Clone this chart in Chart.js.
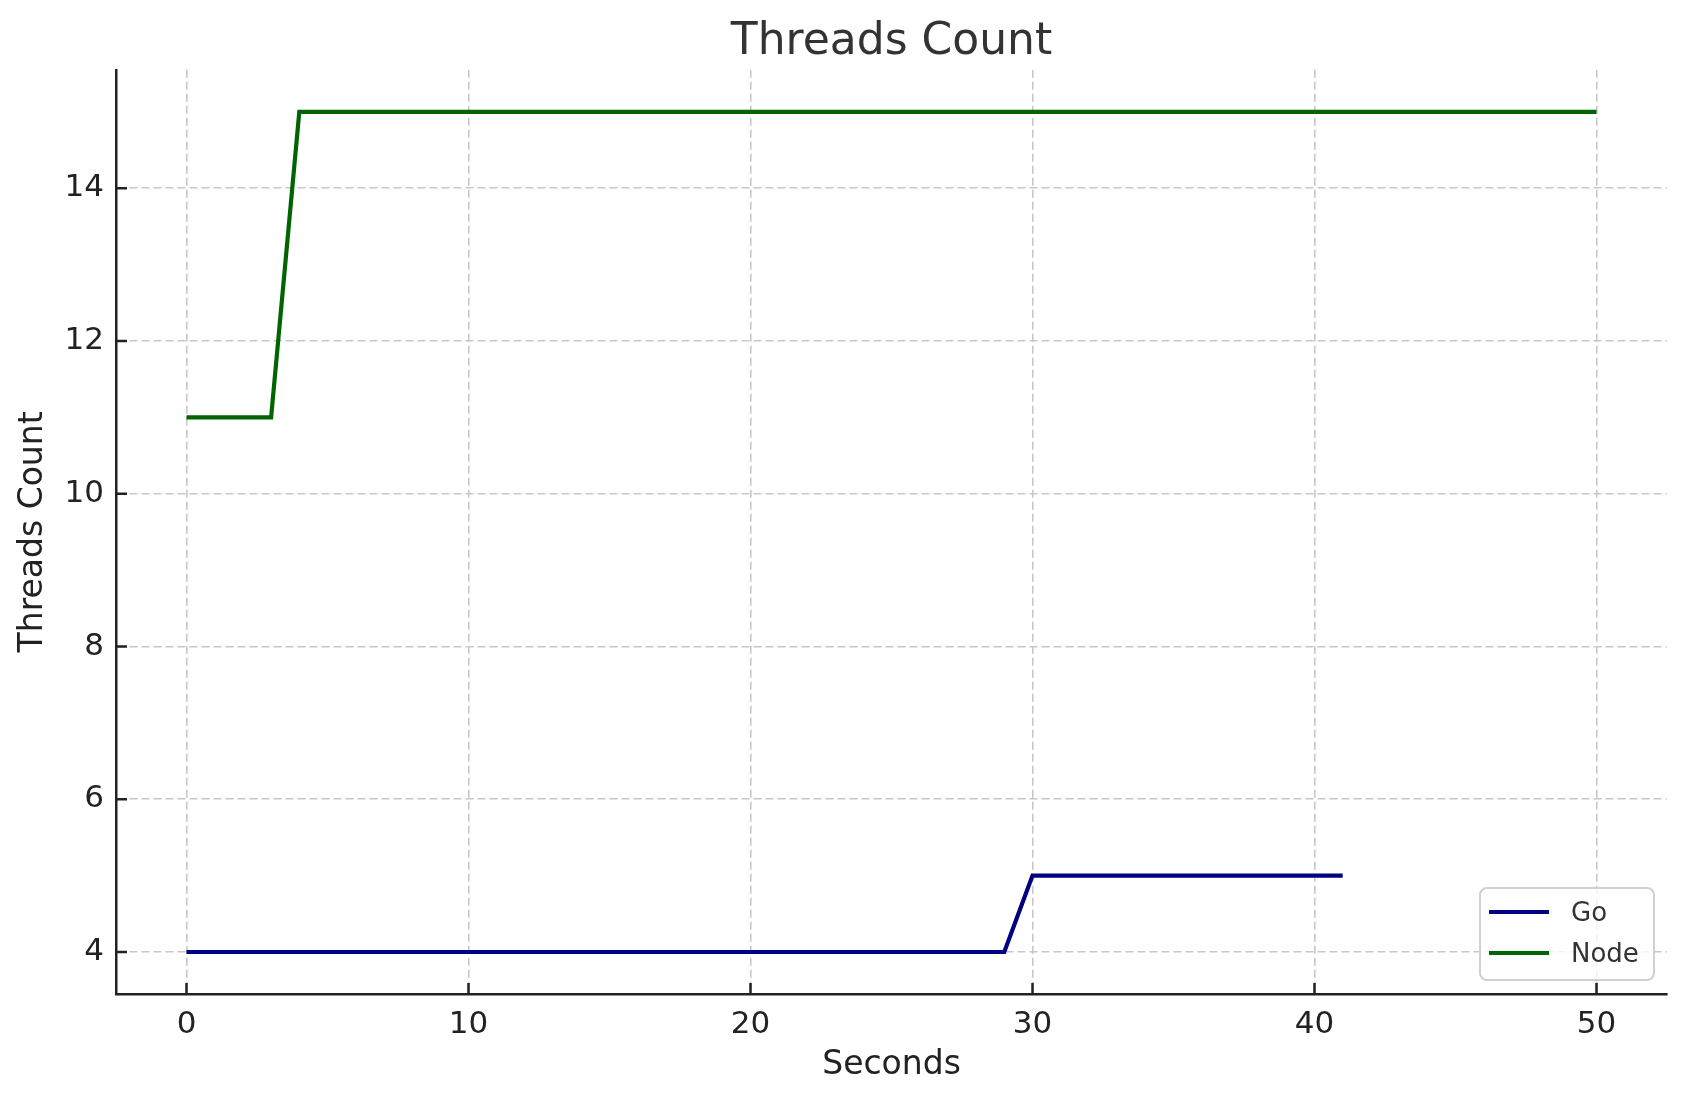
<!DOCTYPE html>
<html>
<head>
<meta charset="utf-8">
<title>Threads Count</title>
<script src="https://cdn.jsdelivr.net/npm/chart.js@4.4.1/dist/chart.umd.min.js"></script>
<style>
  html, body { margin: 0; padding: 0; background: #ffffff; }
  #wrap { width: 1686px; height: 1101px; }
</style>
</head>
<body>
<div id="wrap"><canvas id="myChart" width="1686" height="1101"></canvas></div>
<script>
// data
const goSeconds = [0,1,2,3,4,5,6,7,8,9,10,11,12,13,14,15,16,17,18,19,20,21,22,23,24,25,26,27,28,29,30,31,32,33,34,35,36,37,38,39,40,41];
const goThreads = [4,4,4,4,4,4,4,4,4,4,4,4,4,4,4,4,4,4,4,4,4,4,4,4,4,4,4,4,4,4,5,5,5,5,5,5,5,5,5,5,5,5];
const nodeSeconds = [0,1,2,3,4,5,6,7,8,9,10,11,12,13,14,15,16,17,18,19,20,21,22,23,24,25,26,27,28,29,30,31,32,33,34,35,36,37,38,39,40,41,42,43,44,45,46,47,48,49,50];
const nodeThreads = [11,11,11,11,15,15,15,15,15,15,15,15,15,15,15,15,15,15,15,15,15,15,15,15,15,15,15,15,15,15,15,15,15,15,15,15,15,15,15,15,15,15,15,15,15,15,15,15,15,15,15];
const xTicks = [0, 10, 20, 30, 40, 50];
const yTicks = [4, 6, 8, 10, 12, 14];

const FONT = "'DejaVu Sans', 'Liberation Sans', sans-serif";

function toPoints(xs, ys) {
  return xs.map((x, i) => ({ x: x, y: ys[i] }));
}

// inward tick marks like matplotlib
const innerTicks = {
  id: 'innerTicks',
  afterDatasetsDraw(chart) {
    const ctx = chart.ctx;
    const xs = chart.scales.x, ys = chart.scales.y;
    const area = chart.chartArea;
    ctx.save();
    ctx.strokeStyle = '#222222';
    ctx.lineWidth = 2.5;
    ctx.beginPath();
    xs.ticks.forEach(t => {
      const px = xs.getPixelForValue(t.value);
      ctx.moveTo(px, area.bottom);
      ctx.lineTo(px, area.bottom - 11);
    });
    ys.ticks.forEach(t => {
      const py = ys.getPixelForValue(t.value);
      ctx.moveTo(area.left, py);
      ctx.lineTo(area.left + 11, py);
    });
    ctx.stroke();
    ctx.restore();
  }
};

// legend box in the lower right corner
const boxLegend = {
  id: 'boxLegend',
  afterDraw(chart) {
    const ctx = chart.ctx;
    const area = chart.chartArea;
    const bx = area.right - 187, by = area.bottom - 106, bw = 174, bh = 92;
    ctx.save();
    ctx.fillStyle = 'rgba(255,255,255,0.8)';
    ctx.strokeStyle = '#d0d0d0';
    ctx.lineWidth = 2;
    ctx.beginPath();
    ctx.roundRect(bx, by, bw, bh, 7);
    ctx.fill();
    ctx.stroke();
    ctx.font = '26px ' + FONT;
    ctx.textBaseline = 'middle';
    chart.data.datasets.forEach((ds, i) => {
      const ly = by + 24 + i * 41;
      ctx.strokeStyle = ds.borderColor;
      ctx.lineWidth = ds.borderWidth;
      ctx.beginPath();
      ctx.moveTo(bx + 9, ly);
      ctx.lineTo(bx + 69, ly);
      ctx.stroke();
      ctx.fillStyle = '#333333';
      ctx.fillText(ds.label, bx + 91, ly + 2);
    });
    ctx.restore();
  }
};

const ctx = document.getElementById('myChart');

new Chart(ctx, {
  type: 'line',
  data: {
    datasets: [
      {
        label: 'Go',
        data: toPoints(goSeconds, goThreads),
        borderColor: '#000080',
        backgroundColor: '#000080',
        borderWidth: 4.2,
        pointRadius: 0,
        tension: 0
      },
      {
        label: 'Node',
        data: toPoints(nodeSeconds, nodeThreads),
        borderColor: '#006400',
        backgroundColor: '#006400',
        borderWidth: 4.2,
        pointRadius: 0,
        tension: 0
      }
    ]
  },
  options: {
    responsive: false,
    devicePixelRatio: 1,
    animation: false,
    layout: { padding: { left: 0, right: 19, top: 0, bottom: 0 } },
    plugins: {
      legend: { display: false },
      tooltip: { enabled: false },
      title: {
        display: true,
        text: 'Threads Count',
        fullSize: false,
        color: '#333333',
        font: { family: FONT, size: 44, weight: 'normal', lineHeight: 1.2 },
        padding: { top: 16, bottom: 1 }
      }
    },
    scales: {
      x: {
        type: 'linear',
        min: -2.5,
        max: 52.5,
        afterBuildTicks: (scale) => { scale.ticks = xTicks.map(v => ({ value: v })); },
        afterFit: (scale) => { scale.height = 107; },
        border: { display: true, color: '#222222', width: 2.5, dash: [8, 4] },
        grid: {
          color: '#c8c8c8',
          lineWidth: 1.6,
          drawTicks: false
        },
        ticks: {
          color: '#222222',
          padding: 12,
          maxRotation: 0,
          font: { family: FONT, size: 31 }
        },
        title: {
          display: true,
          text: 'Seconds',
          color: '#222222',
          font: { family: FONT, size: 33, lineHeight: 1.2 },
          padding: { top: 16, bottom: 16 }
        }
      },
      y: {
        type: 'linear',
        min: 3.45,
        max: 15.55,
        afterBuildTicks: (scale) => { scale.ticks = yTicks.map(v => ({ value: v })); },
        afterFit: (scale) => { scale.width = 116; },
        border: { display: true, color: '#222222', width: 2.5, dash: [8, 4] },
        grid: {
          color: '#c8c8c8',
          lineWidth: 1.6,
          drawTicks: false
        },
        ticks: {
          color: '#222222',
          padding: 12,
          font: { family: FONT, size: 31 }
        },
        title: {
          display: true,
          text: 'Threads Count',
          color: '#222222',
          font: { family: FONT, size: 33, lineHeight: 1.2 },
          padding: { top: 14, bottom: 14 }
        }
      }
    }
  },
  plugins: [innerTicks, boxLegend]
});
</script>
</body>
</html>
